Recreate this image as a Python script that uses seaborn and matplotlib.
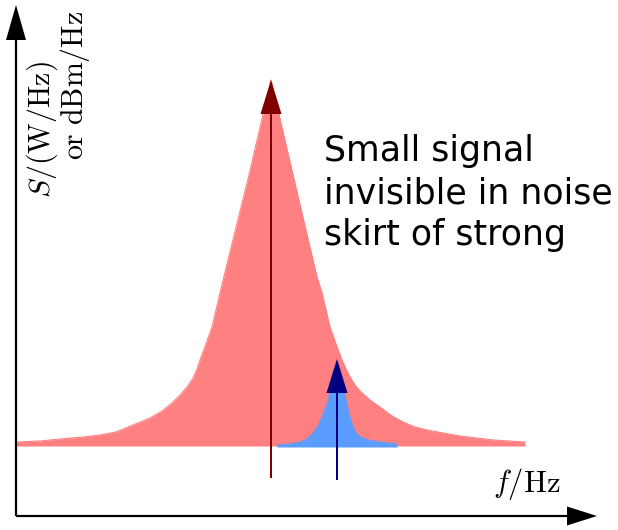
import matplotlib
matplotlib.use("Agg")
import matplotlib.pyplot as plt
import seaborn as sns
import pandas as pd

# noise skirt of the strong carrier (frequency, spectral density)
strong_f = [0.00, 0.24, 0.44, 0.67, 0.84, 1.00, 1.17, 1.34, 1.46, 1.56, 1.64, 1.71, 1.77, 1.81, 1.84,
            1.90, 1.96, 2.00, 2.04, 2.12, 2.33, 2.55,
            2.77, 2.97, 3.01, 3.06, 3.10, 3.14, 3.20, 3.26, 3.30, 3.34, 3.39, 3.44, 3.54, 3.64,
            3.76, 3.87, 3.99, 4.11, 4.27, 4.44, 4.77, 5.09]
strong_s = [0.04, 0.05, 0.07, 0.09, 0.11, 0.14, 0.21, 0.28, 0.35, 0.43, 0.51, 0.59, 0.68, 0.77, 0.86,
            1.02, 1.19, 1.36, 1.53, 1.86, 2.71, 3.66,
            2.71, 1.86, 1.69, 1.53, 1.36, 1.19, 1.02, 0.86, 0.77, 0.69, 0.61, 0.55, 0.46, 0.39,
            0.30, 0.24, 0.19, 0.16, 0.13, 0.10, 0.06, 0.04]

# skirt of the small signal
weak_f = [2.61, 2.74, 2.84, 2.91, 2.97, 3.02, 3.06, 3.09, 3.12, 3.21,
          3.30, 3.33, 3.37, 3.40, 3.44, 3.52, 3.64, 3.81]
weak_s = [0.01, 0.02, 0.04, 0.07, 0.13, 0.20, 0.29, 0.37, 0.46, 0.84,
          0.46, 0.32, 0.19, 0.13, 0.09, 0.06, 0.04, 0.02]

# carriers (arrows): frequency, foot, tip
strong_carrier = (2.55, -0.32, 3.66)
weak_carrier = (3.21, -0.34, 0.87)

axis_origin = (0.0, -0.70)
axis_ends = (5.81, 4.41)

red_fill = "#ff8080"
blue_fill = "#5a9cff"

sns.set_style("white")
plt.rcParams["mathtext.fontset"] = "cm"
plt.rcParams["text.color"] = "black"

fig = plt.figure(figsize=(6.18, 5.30), dpi=100)
ax = fig.add_axes([0, 0, 1, 1])
ax.set_xlim(-0.16, 6.02)
ax.set_ylim(-0.84, 4.46)
ax.axis("off")

strong = pd.DataFrame({"f": strong_f, "S": strong_s})
weak = pd.DataFrame({"f": weak_f, "S": weak_s})

ax.fill_between(strong["f"], 0, strong["S"], color=red_fill, lw=0, zorder=1)
sns.lineplot(data=strong, x="f", y="S", color=red_fill, lw=0.8, sort=False, ax=ax, zorder=1)
ax.fill_between(weak["f"], -0.01, weak["S"], color=blue_fill, lw=0, zorder=2)
sns.lineplot(data=weak, x="f", y="S", color=blue_fill, lw=0.8, sort=False, ax=ax, zorder=2)

for (fc, lo, hi), col in [(strong_carrier, "#800000"), (weak_carrier, "#000080")]:
    ax.arrow(fc, lo, 0, hi - lo, width=0.02, head_width=0.21, head_length=0.34,
             length_includes_head=True, color=col, lw=0, zorder=3)

# axes with arrow heads
x0, y0 = axis_origin
ax.arrow(x0, y0, axis_ends[0] - x0, 0, width=0.022, head_width=0.19, head_length=0.30,
         length_includes_head=True, color="black", lw=0, zorder=4)
ax.arrow(x0, y0, 0, axis_ends[1] - y0, width=0.022, head_width=0.20, head_length=0.35,
         length_includes_head=True, color="black", lw=0, zorder=4)

ax.text(4.77, -0.46, r"$f/\mathrm{Hz}$", fontsize=22, ha="left", va="baseline")
ax.text(0.26, 3.16, r"$S/(\mathrm{W/Hz})$", fontsize=21.5, rotation=90, ha="center", va="center")
ax.text(0.59, 3.61, r"$\mathrm{or\ dBm/Hz}$", fontsize=21.5, rotation=90, ha="center", va="center")

ax.text(3.08, 3.12, "Small signal\ninvisible in noise\nskirt of strong", fontsize=25,
        ha="left", va="top", linespacing=1.3)

fig.savefig("out.png", dpi=100)
